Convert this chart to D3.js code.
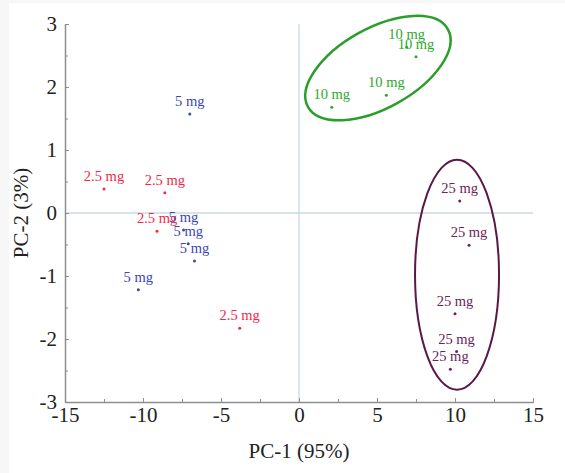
<!DOCTYPE html>
<meta charset="utf-8">
<style>
body { margin: 0; background: #f7f7f7; }
svg { display: block; }
.tick text { font-family: "Liberation Serif", "Times New Roman", serif; font-size: 21px; fill: #222; }
.axis path, .axis line { stroke: #8a8f90; }
.title { font-family: "Liberation Serif", "Times New Roman", serif; font-size: 21px; fill: #222; text-anchor: middle; }
.lbl { font-family: "Liberation Serif", "Times New Roman", serif; font-size: 14.5px; text-anchor: middle; }
</style>
<svg width="565" height="473"></svg>
<script src="https://cdn.jsdelivr.net/npm/d3@7"></script>
<script>

// scores, one array per dose
var dose25 = [[-12.5, 0.38], [-8.6, 0.32], [-9.1, -0.29], [-3.8, -1.83]];
var dose5 = [[-7.0, 1.57], [-7.4, -0.27], [-7.1, -0.49], [-6.7, -0.76], [-10.3, -1.22]];
var dose10 = [[2.1, 1.68], [5.6, 1.87], [7.5, 2.48], [6.9, 2.63]];
var dose25mg = [[10.3, 0.19], [10.9, -0.51], [10.0, -1.6], [10.1, -2.2], [9.7, -2.48]];

var xTicks = [-15, -10, -5, 0, 5, 10, 15];
var yTicks = [-3, -2, -1, 0, 1, 2, 3];

var groups = [
  { name: "2.5 mg", pts: dose25, color: "#ee2a4a" },
  { name: "5 mg", pts: dose5, color: "#3a48b0" },
  { name: "10 mg", pts: dose10, color: "#2ea82e" },
  { name: "25 mg", pts: dose25mg, color: "#6a2458" }
];

// cluster rings: centre in data units, radii in px, angle in degrees
var rings = [
  { cx: 5.06, cy: 2.3, rx: 80, ry: 40, rot: -29, color: "#2a9e2a", w: 2.5 },
  { cx: 10.13, cy: -0.98, rx: 42, ry: 115, rot: 0, color: "#5a1848", w: 2 }
];

var svg = d3.select("svg");
svg.append("rect").attr("x", 9).attr("y", 3).attr("width", 556).attr("height", 470).attr("fill", "#fff");

var x = d3.scaleLinear().domain([-15, 15]).range([65, 533]);
var y = d3.scaleLinear().domain([-3, 3]).range([402, 24]);
var fmt = function(d) { return String(d); };

// zero lines
svg.append("line").attr("x1", x(-15)).attr("x2", x(15)).attr("y1", y(0)).attr("y2", y(0))
    .attr("stroke", "#c9dbe3").attr("stroke-width", 1.5);
svg.append("line").attr("x1", x(0)).attr("x2", x(0)).attr("y1", y(-3)).attr("y2", y(3))
    .attr("stroke", "#b9cde6").attr("stroke-width", 1);

// minor ticks
var gx = svg.append("g").attr("class", "axis").attr("transform", "translate(0," + y(-3) + ")");
gx.call(d3.axisBottom(x).tickValues(d3.range(-15, 15.1, 2.5)).tickSize(-3).tickFormat(""));
var gy = svg.append("g").attr("class", "axis").attr("transform", "translate(" + x(-15) + ",0)");
gy.call(d3.axisLeft(y).tickValues(d3.range(-3, 3.01, 0.5)).tickSize(-3).tickFormat(""));

// labelled axes
var ax = svg.append("g").attr("class", "axis").attr("transform", "translate(0," + y(-3) + ")")
    .call(d3.axisBottom(x).tickValues(xTicks).tickFormat(fmt).tickSize(-4).tickPadding(2).tickSizeOuter(0));
var ay = svg.append("g").attr("class", "axis").attr("transform", "translate(" + x(-15) + ",0)")
    .call(d3.axisLeft(y).tickValues(yTicks).tickFormat(fmt).tickSize(-4).tickPadding(8).tickSizeOuter(0));
ax.selectAll(".tick text").attr("dy", "0.85em");
ax.select(".domain").attr("stroke-width", 1.5);
ay.select(".domain").attr("stroke-width", 1.5);

svg.append("text").attr("class", "title").attr("x", x(0)).attr("y", 458).text("PC-1 (95%)");
svg.append("text").attr("class", "title")
    .attr("transform", "translate(28," + y(0) + ") rotate(-90)").text("PC-2 (3%)");

svg.selectAll(".ring").data(rings).enter().append("ellipse")
    .attr("class", "ring")
    .attr("transform", function(d) { return "translate(" + x(d.cx) + "," + y(d.cy) + ") rotate(" + d.rot + ")"; })
    .attr("rx", function(d) { return d.rx; })
    .attr("ry", function(d) { return d.ry; })
    .attr("fill", "none")
    .attr("stroke", function(d) { return d.color; })
    .attr("stroke-width", function(d) { return d.w; });

groups.forEach(function(g) {
  var sel = svg.append("g");
  sel.selectAll("circle").data(g.pts).enter().append("circle")
      .attr("cx", function(d) { return x(d[0]); })
      .attr("cy", function(d) { return y(d[1]); })
      .attr("r", 1.5)
      .attr("fill", g.color);
  sel.selectAll("text").data(g.pts).enter().append("text")
      .attr("class", "lbl")
      .attr("x", function(d) { return x(d[0]); })
      .attr("y", function(d) { return y(d[1]) - 8; })
      .attr("fill", g.color)
      .text(g.name);
});

</script>
